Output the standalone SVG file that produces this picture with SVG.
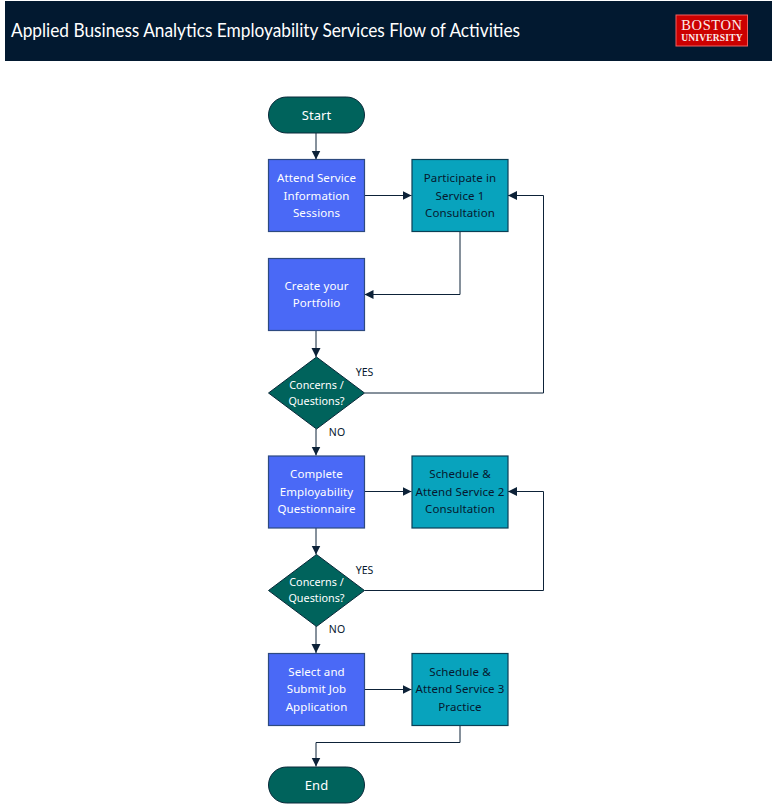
<svg xmlns="http://www.w3.org/2000/svg" width="772" height="804" viewBox="0 0 772 804">
<style>
text{font-family:"Noto Sans","DejaVu Sans",sans-serif;font-size:11.5px;text-anchor:middle;letter-spacing:.1px}
.w{fill:#fff}.d{fill:#06182f}
.t{fill:#00635c;stroke:#0a2a3a;stroke-width:1}
.b{fill:#4a69f6;stroke:#2d4a80;stroke-width:1.2}
.c{fill:#08a3bd;stroke:#0a3f55;stroke-width:1.2}
.l{fill:none;stroke:#0d2238;stroke-width:1}
.h{fill:#0d2238}
</style>
<defs><marker id="a" markerUnits="userSpaceOnUse" markerWidth="10" markerHeight="10" refX="9" refY="4.5" orient="auto"><path class="h" d="M0 0L9 4.5L0 9z"/></marker></defs>
<rect width="772" height="804" fill="#fff"/>
<g id="header">
<rect x="5" y="1" width="767" height="60" fill="#021930"/>
<text x="11" y="37" style="font-family:Lato,sans-serif;font-size:18.500px;text-anchor:start;letter-spacing:0" class="w" textLength="509" lengthAdjust="spacingAndGlyphs">Applied Business Analytics Employability Services Flow of Activities</text>
</g>
<g id="logo">
<rect x="676" y="15" width="71.500" height="31" fill="#cc0000" stroke="#f06060"/>
<text x="712" y="29.500" fill="#fbeaea" style="font-family:'Liberation Serif',serif;font-size:14.500px;letter-spacing:.6px">BOSTON</text>
<text x="712" y="40.500" fill="#fbeaea" style="font-family:'Liberation Serif',serif;font-size:9.500px;font-weight:bold;letter-spacing:.2px">UNIVERSITY</text>
</g>
<g id="connectors">
<path class="l" marker-end="url(#a)" d="M316 133V159.500"/>
<path class="l" marker-end="url(#a)" d="M364.500 195.500H411.500"/>
<path class="l" marker-end="url(#a)" d="M460 232V294.500H364.500"/>
<path class="l" marker-end="url(#a)" d="M316 330V357"/>
<path class="l" marker-end="url(#a)" d="M364.500 393H543.500V195.500H508"/>
<path class="l" marker-end="url(#a)" d="M316 429V455.500"/>
<path class="l" marker-end="url(#a)" d="M364.500 491.500H411.500"/>
<path class="l" marker-end="url(#a)" d="M316 528V554.500"/>
<path class="l" marker-end="url(#a)" d="M364.500 590.500H543.500V491.500H508"/>
<path class="l" marker-end="url(#a)" d="M316 626V653"/>
<path class="l" marker-end="url(#a)" d="M364.500 689.500H411.500"/>
<path class="l" marker-end="url(#a)" d="M460 725V742.500H316V766.500"/>
</g>
<g id="start"><rect class="t" x="268.500" y="97" width="96" height="36" rx="18"/><text class="w" x="316.500" y="120" style="font-size:13px">Start</text></g>
<g id="attend"><rect class="b" x="268.500" y="159.500" width="96" height="72"/><text class="w" x="316.500" y="182">Attend Service</text><text class="w" x="316.500" y="200">Information</text><text class="w" x="316.500" y="217">Sessions</text></g>
<g id="service1"><rect class="c" x="412" y="159.500" width="96" height="72"/><text class="d" x="460" y="182">Participate in</text><text class="d" x="460" y="200">Service 1</text><text class="d" x="460" y="217">Consultation</text></g>
<g id="portfolio"><rect class="b" x="268.500" y="258.500" width="96" height="72"/><text class="w" x="316.500" y="290">Create your</text><text class="w" x="316.500" y="307">Portfolio</text></g>
<g id="decision1"><path class="t" d="M316.500 357L364.500 393L316.500 429L268.500 393z"/><text class="w" x="316.500" y="389" style="font-size:10.800px;letter-spacing:0">Concerns /</text><text class="w" x="316.500" y="405" style="font-size:10.800px;letter-spacing:0">Questions?</text></g>
<g id="questionnaire"><rect class="b" x="268.500" y="456" width="96" height="72"/><text class="w" x="316.500" y="478">Complete</text><text class="w" x="316.500" y="496">Employability</text><text class="w" x="316.500" y="513">Questionnaire</text></g>
<g id="service2"><rect class="c" x="412" y="456" width="96" height="72"/><text class="d" x="460" y="478">Schedule &amp;</text><text class="d" x="460" y="496">Attend Service 2</text><text class="d" x="460" y="513">Consultation</text></g>
<g id="decision2"><path class="t" d="M316.500 554.500L364.500 590.500L316.500 626.500L268.500 590.500z"/><text class="w" x="316.500" y="586" style="font-size:10.800px;letter-spacing:0">Concerns /</text><text class="w" x="316.500" y="602" style="font-size:10.800px;letter-spacing:0">Questions?</text></g>
<g id="application"><rect class="b" x="268.500" y="653.500" width="96" height="72"/><text class="w" x="316.500" y="676">Select and</text><text class="w" x="316.500" y="693">Submit Job</text><text class="w" x="316.500" y="711">Application</text></g>
<g id="service3"><rect class="c" x="412" y="653.500" width="96" height="72"/><text class="d" x="460" y="676">Schedule &amp;</text><text class="d" x="460" y="693">Attend Service 3</text><text class="d" x="460" y="711">Practice</text></g>
<g id="end"><rect class="t" x="268.500" y="767" width="96" height="36" rx="18"/><text class="w" x="316.500" y="790" style="font-size:13px">End</text></g>
<g id="labels">
<text class="d" x="364.500" y="376" style="font-size:10.500px;letter-spacing:0">YES</text>
<text class="d" x="337" y="436" style="font-size:10.500px">NO</text>
<text class="d" x="364.500" y="574" style="font-size:10.500px;letter-spacing:0">YES</text>
<text class="d" x="337" y="633" style="font-size:10.500px">NO</text>
</g>
</svg>
